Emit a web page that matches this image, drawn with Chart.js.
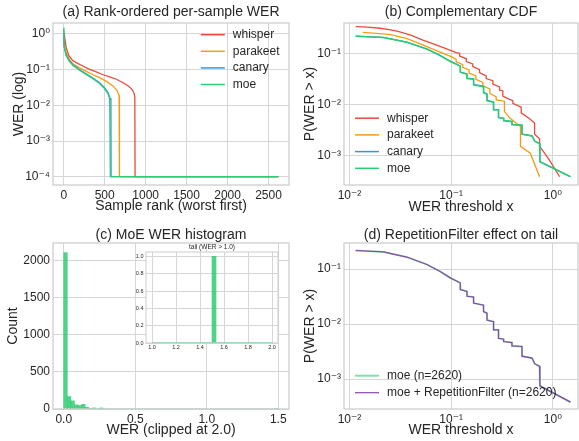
<!DOCTYPE html>
<html>
<head>
<meta charset="utf-8">
<script src="https://cdn.jsdelivr.net/npm/chart.js@4.4.1/dist/chart.umd.min.js"></script>
<style>
  html, body { margin: 0; padding: 0; background: #fff; }
  #fig { position: relative; width: 579px; height: 441px; overflow: hidden; }
  #fig canvas { position: absolute; }
</style>
</head>
<body>
<div id="fig">
  <canvas id="cA" width="290" height="220" style="left:0;top:0"></canvas>
  <canvas id="cB" width="289" height="220" style="left:290px;top:0"></canvas>
  <canvas id="cC" width="290" height="221" style="left:0;top:220px"></canvas>
  <canvas id="cD" width="289" height="221" style="left:290px;top:220px"></canvas>
  <canvas id="cInset" width="162" height="114" style="left:120px;top:238px"></canvas>
</div>
<script>
// ── Data ──

// (a) per-sample WER sorted worst first; zero WER is drawn at 1e-4
const whisperRank  = [0, 20, 28, 61, 110, 151, 233, 315, 397, 479, 561, 643, 725, 787, 828, 856, 868, 871, 2619];
const whisperWer   = [1.2, 0.6, 0.43, 0.25, 0.18, 0.158, 0.127, 0.102, 0.087, 0.072, 0.063, 0.054, 0.043, 0.035, 0.029, 0.023, 0.017, 1e-4, 1e-4];
const parakeetRank = [0, 5, 28, 69, 110, 192, 274, 356, 438, 520, 602, 651, 676, 680, 2619];
const parakeetWer  = [0.76, 0.45, 0.31, 0.195, 0.147, 0.112, 0.090, 0.072, 0.060, 0.047, 0.035, 0.026, 0.019, 1e-4, 1e-4];
const canaryRank   = [0, 5, 28, 69, 110, 192, 274, 356, 438, 500, 541, 565, 576, 578, 2619];
const canaryWer    = [1.0, 0.45, 0.26, 0.18, 0.14, 0.10, 0.077, 0.058, 0.043, 0.031, 0.023, 0.016, 0.014, 1e-4, 1e-4];
const moeRank      = [0, 3, 10, 28, 69, 110, 192, 274, 356, 438, 500, 541, 561, 569, 2619];
const moeWer       = [1.5, 0.7, 0.4, 0.25, 0.17, 0.133, 0.096, 0.074, 0.056, 0.041, 0.029, 0.021, 0.015, 1e-4, 1e-4];

// (b) complementary CDF, P(WER > x)
const whisperThr  = [0.0115, 0.015, 0.02, 0.0247, 0.03, 0.04, 0.0526, 0.07, 0.085, 0.1, 0.112, 0.121, 0.121, 0.141, 0.141, 0.163, 0.163, 0.19, 0.19, 0.221, 0.221, 0.257, 0.257, 0.299, 0.299, 0.322, 0.322, 0.375, 0.404, 0.404, 0.488, 0.488, 0.59, 0.661, 0.661, 0.74, 0.74, 0.828, 0.927, 1.04, 1.164];
const whisperCcdf = [0.333, 0.327, 0.31, 0.29, 0.27, 0.228, 0.182, 0.148, 0.128, 0.113, 0.103, 0.1, 0.088, 0.078, 0.069, 0.062, 0.055, 0.048, 0.042, 0.036, 0.032, 0.029, 0.025, 0.022, 0.019, 0.0185, 0.0145, 0.0125, 0.0118, 0.0105, 0.0088, 0.0068, 0.0052, 0.0043, 0.0026, 0.0021, 0.0015, 0.0011, 0.0008, 0.00055, 0.00038];
const parakeetThr  = [0.0135, 0.0247, 0.0362, 0.0526, 0.0767, 0.1, 0.112, 0.112, 0.13, 0.13, 0.15, 0.15, 0.175, 0.175, 0.205, 0.205, 0.24, 0.24, 0.277, 0.277, 0.334, 0.334, 0.38, 0.44, 0.48, 0.48, 0.6, 0.74];
const parakeetCcdf = [0.258, 0.236, 0.197, 0.146, 0.107, 0.086, 0.076, 0.068, 0.06, 0.053, 0.047, 0.041, 0.036, 0.031, 0.027, 0.023, 0.02, 0.0165, 0.014, 0.0122, 0.0115, 0.0072, 0.0053, 0.0042, 0.0037, 0.0015, 0.0011, 0.00038];
const canaryThr  = [0.0115, 0.0215, 0.0366, 0.0577, 0.078, 0.098, 0.114, 0.123, 0.123, 0.143, 0.143, 0.166, 0.166, 0.208, 0.208, 0.225, 0.225, 0.261, 0.261, 0.292, 0.292, 0.328, 0.328, 0.396, 0.396, 0.497, 0.497, 0.624, 0.662, 0.74, 0.745, 1.49];
const canaryCcdf = [0.218, 0.206, 0.166, 0.122, 0.091, 0.07, 0.061, 0.056, 0.0428, 0.0395, 0.0325, 0.0315, 0.0245, 0.0225, 0.0171, 0.016, 0.0119, 0.0111, 0.0079, 0.0079, 0.0055, 0.0053, 0.0048, 0.0046, 0.004, 0.0039, 0.0026, 0.0024, 0.0019, 0.0017, 0.00075, 0.00038];
const moeThr  = [0.0115, 0.0215, 0.0366, 0.0577, 0.078, 0.098, 0.114, 0.123, 0.123, 0.143, 0.143, 0.166, 0.166, 0.208, 0.208, 0.225, 0.225, 0.261, 0.261, 0.292, 0.292, 0.328, 0.328, 0.396, 0.396, 0.497, 0.497, 0.624, 0.662, 0.74, 0.745, 1.49];
const moeCcdf = [0.217, 0.205, 0.165, 0.121, 0.09, 0.069, 0.06, 0.0555, 0.0425, 0.039, 0.032, 0.031, 0.024, 0.022, 0.0168, 0.0157, 0.0118, 0.011, 0.0078, 0.0078, 0.0055, 0.0053, 0.0048, 0.0046, 0.004, 0.0039, 0.0026, 0.0024, 0.0019, 0.0017, 0.00075, 0.00038];

// (c) MoE histogram: 60 bins of 0.025 from 0.0, inset 30 bins over 1.0..2.0
const histStart = 0.0;
const histBin = 0.025;
const histCounts = [2115, 168, 110, 56, 48, 64, 22, 8, 14, 0, 14, 0, 0, 0, 0, 0, 0, 0, 0, 0,
                    0, 0, 0, 0, 0, 0, 0, 0, 0, 0, 0, 0, 0, 0, 0, 0, 0, 0, 0, 0,
                    0, 0, 0, 0, 0, 0, 0, 0, 0, 0, 0, 0, 0, 0, 0, 0, 0, 0, 0, 1];
const tailStart = 1.0;
const tailBin = 1 / 30;
const tailCounts = [0, 0, 0, 0, 0, 0, 0, 0, 0, 0, 0, 0, 0, 0, 0, 1, 0, 0, 0, 0, 0, 0, 0, 0, 0, 0, 0, 0, 0, 0];
const tailRange = [1.0, 2.0];

// (d) the filter leaves the MoE tail unchanged (same n), same curve
const filterThr = moeThr;
const filterCcdf = moeCcdf;

// tick values
const rankTicks = [0, 500, 1000, 1500, 2000, 2500];
const werLogTicks = [1e-4, 1e-3, 1e-2, 1e-1, 1];
const thrTicks = [0.01, 0.1, 1];
const ccdfTicks = [1e-3, 1e-2, 1e-1];
const histXTicks = [0, 0.5, 1.0, 1.5];
const countTicks = [0, 500, 1000, 1500, 2000];
const tailXTicks = [1.0, 1.2, 1.4, 1.6, 1.8, 2.0];
const tailYTicks = [0, 0.2, 0.4, 0.6, 0.8, 1.0];

// ── Style ──
const FONT = '"Liberation Sans", Arial, "DejaVu Sans", sans-serif';
const TEXT = '#262626';
const GRID = '#d6d6d6';
const EDGE = '#cccccc';
const C_WHISPER = '#e74c3c';
const C_PARAKEET = '#f39c12';
const C_CANARY = '#3498db';
const C_MOE = '#2ecc71';
const C_FILTER = '#8e44ad';
const BAR_FILL = 'rgba(46,204,113,0.85)';

const SUP = { '-': '\u207b', '0': '\u2070', '1': '\u00b9', '2': '\u00b2', '3': '\u00b3', '4': '\u2074' };
const logLabel = v => '10' + String(Math.round(Math.log10(v))).split('').map(c => SUP[c]).join('');
const fix1 = v => v.toFixed(1);

const pts = (xs, ys) => xs.map((x, i) => ({ x, y: ys[i] }));
const binPts = (start, w, counts) => counts.map((c, i) => ({ x: start + (i + 0.5) * w, y: c }));

// later datasets sit on top, like matplotlib (Chart.js draws the first one last by default)
const stackUp = sets => sets.map((d, i) => Object.assign(d, { order: sets.length - i }));

// ── Plugins: frame, in-axes legend, axes title, white axes background ──
const decor = {
  id: 'decor',
  beforeDraw(chart, args, o) {
    if (!o.bg) return;
    const { ctx, chartArea: a } = chart;
    ctx.save();
    ctx.fillStyle = '#fff';
    ctx.fillRect(a.left, a.top, a.right - a.left, a.bottom - a.top);
    ctx.restore();
  },
  afterDraw(chart, args, o) {
    const { ctx, chartArea: a } = chart;
    ctx.save();
    ctx.strokeStyle = EDGE;
    ctx.lineWidth = o.edge || 1.25;
    ctx.strokeRect(a.left, a.top, a.right - a.left, a.bottom - a.top);

    if (o.title) {
      ctx.font = `${o.titleSize || 14}px ${FONT}`;
      ctx.fillStyle = TEXT;
      ctx.textAlign = 'center';
      ctx.textBaseline = 'middle';
      ctx.fillText(o.title, (a.left + a.right) / 2, a.top - o.titleGap);
    }

    const lg = o.legend;
    if (lg) {
      const items = chart.data.datasets.filter(d => d.label);
      ctx.font = `12px ${FONT}`;
      const textW = Math.max(...items.map(d => ctx.measureText(d.label).width));
      const w = 24 + 8 + textW;
      const x0 = lg.corner === 'ur' ? a.right - lg.dx - w : a.left + lg.dx;
      const y0 = lg.corner === 'ur' ? a.top + lg.dy : a.bottom - lg.dy - (items.length - 1) * lg.rowH;
      items.forEach((d, i) => {
        const y = y0 + i * lg.rowH;
        ctx.strokeStyle = d.borderColor;
        ctx.lineWidth = d.legendWidth || 1.5;
        ctx.beginPath();
        ctx.moveTo(x0, y);
        ctx.lineTo(x0 + 24, y);
        ctx.stroke();
        ctx.fillStyle = TEXT;
        ctx.textAlign = 'left';
        ctx.textBaseline = 'middle';
        ctx.fillText(d.label, x0 + 32, y);
      });
    }
    ctx.restore();
  },
};

// ── Helpers ──
function axis(o) {
  return {
    type: o.type || 'linear',
    position: o.pos,
    min: o.min,
    max: o.max,
    offset: false,
    border: { display: false },
    grid: { color: GRID, lineWidth: 1, drawTicks: false, offset: false },
    ticks: {
      color: TEXT, font: { family: FONT, size: o.tickSize || 12 },
      padding: o.pad, autoSkip: false, maxRotation: 0, callback: o.fmt,
    },
    title: {
      display: !!o.title, text: o.title, color: TEXT,
      font: { family: FONT, size: 14 }, padding: o.tpad || 0,
    },
    afterBuildTicks: s => { s.ticks = o.ticks.map(v => ({ value: v })); },
    afterFit: s => { if (o.pos === 'left') s.width = o.size; else s.height = o.size; },
  };
}

function line(label, xs, ys, color, extra) {
  return Object.assign({
    label, data: pts(xs, ys),
    borderColor: color, backgroundColor: color,
    borderWidth: 1.3, pointRadius: 0, tension: 0, fill: false,
  }, extra || {});
}

function baseOpts(pad, decorOpts, scales) {
  return {
    responsive: false, animation: false, devicePixelRatio: 1,
    layout: { padding: pad },
    plugins: { legend: { display: false }, title: { display: false }, tooltip: { enabled: false }, decor: decorOpts },
    scales,
  };
}

// ── (a) Rank-ordered per-sample WER ──
new Chart(document.getElementById('cA'), {
  type: 'line',
  data: {
    datasets: stackUp([
      line('whisper', whisperRank, whisperWer, C_WHISPER),
      line('parakeet', parakeetRank, parakeetWer, C_PARAKEET),
      line('canary', canaryRank, canaryWer, C_CANARY),
      line('moe', moeRank, moeWer, C_MOE),
    ]),
  },
  options: baseOpts({ top: 23, right: 1, left: 0, bottom: 0 },
    { title: '(a) Rank-ordered per-sample WER', titleGap: 11,
      legend: { corner: 'ur', dx: 9.5, dy: 11.7, rowH: 16.6 } },
    {
      x: axis({ pos: 'bottom', min: -131, max: 2750, ticks: rankTicks, size: 35, pad: 3,
                title: 'Sample rank (worst first)', tpad: { bottom: 5.6 } }),
      y: axis({ pos: 'left', type: 'logarithmic', min: Math.pow(10, -4.232), max: Math.pow(10, 0.308),
                ticks: werLogTicks, fmt: logLabel, size: 53, pad: 3,
                title: 'WER (log)', tpad: { top: 10.6 } }),
    }),
  plugins: [decor],
});

// ── (b) Complementary CDF ──
new Chart(document.getElementById('cB'), {
  type: 'line',
  data: {
    datasets: stackUp([
      line('whisper', whisperThr, whisperCcdf, C_WHISPER),
      line('parakeet', parakeetThr, parakeetCcdf, C_PARAKEET),
      line('canary', canaryThr, canaryCcdf, C_CANARY),
      line('moe', moeThr, moeCcdf, C_MOE, { borderWidth: 1.5 }),
    ]),
  },
  options: baseOpts({ top: 23, right: 1, left: 0, bottom: 0 },
    { title: '(b) Complementary CDF', titleGap: 11,
      legend: { corner: 'll', dx: 11, dy: 16.7, rowH: 16.7 } },
    {
      x: axis({ pos: 'bottom', type: 'logarithmic', min: Math.pow(10, -2.054), max: Math.pow(10, 0.247),
                ticks: thrTicks, fmt: logLabel, size: 35, pad: 3,
                title: 'WER threshold x', tpad: { bottom: 4.9 } }),
      y: axis({ pos: 'left', type: 'logarithmic', min: Math.pow(10, -3.582), max: Math.pow(10, -0.406),
                ticks: ccdfTicks, fmt: logLabel, size: 54, pad: 3,
                title: 'P(WER > x)', tpad: { top: 11.6 } }),
    }),
  plugins: [decor],
});

// ── (c) MoE WER histogram ──
new Chart(document.getElementById('cC'), {
  type: 'bar',
  data: {
    datasets: [{
      data: binPts(histStart, histBin, histCounts),
      backgroundColor: BAR_FILL, borderWidth: 0,
      barPercentage: 1, categoryPercentage: 1,
    }],
  },
  options: baseOpts({ top: 23, right: 1, left: 0, bottom: 0 },
    { title: '(c) MoE WER histogram', titleGap: 8 },
    {
      x: axis({ pos: 'bottom', min: -0.075, max: 1.575, ticks: histXTicks, fmt: fix1, size: 32, pad: 3,
                title: 'WER (clipped at 2.0)', tpad: { bottom: 2.6 } }),
      y: axis({ pos: 'left', min: 0, max: 2243, ticks: countTicks, size: 53, pad: 3,
                title: 'Count', tpad: { top: 4.9 } }),
    }),
  plugins: [decor],
});

// inset: tail (WER > 1.0)
new Chart(document.getElementById('cInset'), {
  type: 'bar',
  data: {
    datasets: [
      {
        data: binPts(tailStart, tailBin, tailCounts),
        backgroundColor: BAR_FILL, borderWidth: 0,
        barPercentage: 1, categoryPercentage: 1,
      },
      {
        type: 'line',
        data: tailRange.map(x => ({ x, y: 0 })),
        borderColor: BAR_FILL, borderWidth: 1.2, pointRadius: 0,
      },
    ],
  },
  options: baseOpts({ top: 14, right: 4, left: 0, bottom: 0 },
    { title: 'tail (WER > 1.0)', titleGap: 5, titleSize: 6.5, bg: true, edge: 1 },
    {
      x: axis({ pos: 'bottom', min: 0.95, max: 2.05, ticks: tailXTicks, fmt: fix1, size: 9, pad: 1, tickSize: 5.5 }),
      y: axis({ pos: 'left', min: 0, max: 1.05, ticks: tailYTicks, fmt: fix1, size: 26, pad: 2.5, tickSize: 5.5 }),
    }),
  plugins: [decor],
});

// ── (d) RepetitionFilter effect on tail ──
new Chart(document.getElementById('cD'), {
  type: 'line',
  data: {
    datasets: stackUp([
      line('moe (n=2620)', moeThr, moeCcdf, 'rgba(46,204,113,0.6)', { borderWidth: 1.8, legendWidth: 2 }),
      line('moe + RepetitionFilter (n=2620)', filterThr, filterCcdf, C_FILTER, { borderWidth: 1.2, legendWidth: 1.2 }),
    ]),
  },
  options: baseOpts({ top: 23, right: 1, left: 0, bottom: 0 },
    { title: '(d) RepetitionFilter effect on tail', titleGap: 7.5,
      legend: { corner: 'll', dx: 11, dy: 16.3, rowH: 17 } },
    {
      x: axis({ pos: 'bottom', type: 'logarithmic', min: Math.pow(10, -2.054), max: Math.pow(10, 0.247),
                ticks: thrTicks, fmt: logLabel, size: 32, pad: 3,
                title: 'WER threshold x', tpad: { bottom: 2.6 } }),
      y: axis({ pos: 'left', type: 'logarithmic', min: Math.pow(10, -3.545), max: Math.pow(10, -0.527),
                ticks: ccdfTicks, fmt: logLabel, size: 54, pad: 3,
                title: 'P(WER > x)', tpad: { top: 11.6 } }),
    }),
  plugins: [decor],
});
</script>
</body>
</html>
